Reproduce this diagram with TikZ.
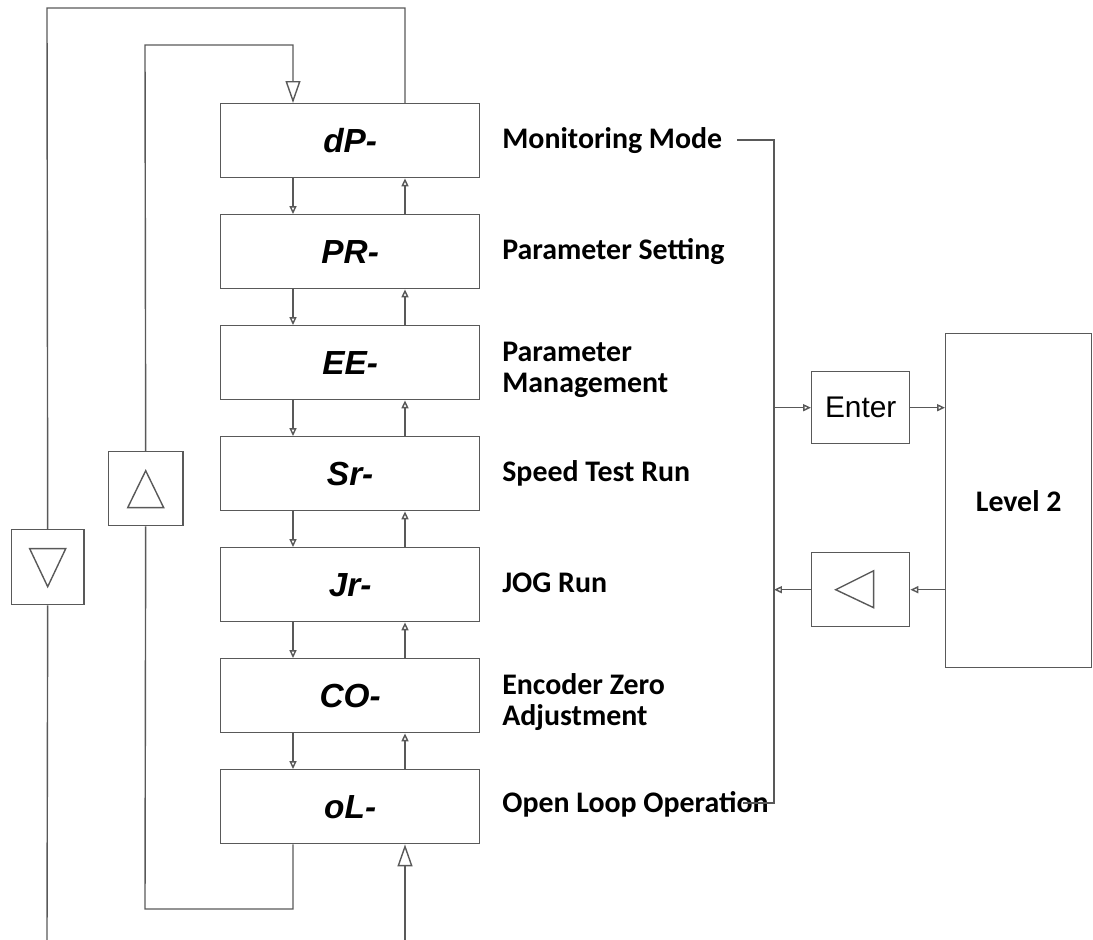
\documentclass[tikz,border=0pt]{standalone}
\usepackage{fontspec}
\setmainfont{Carlito}
\newfontfamily\segfont{Liberation Sans}
\newfontfamily\keyfont{Liberation Sans}
\usetikzlibrary{arrows.meta,calc}
\begin{document}
\begin{tikzpicture}[x=0.02cm,y=-0.02cm,
  ln/.style={draw=black!65, line width=0.8pt},
  modebox/.style={ln, minimum width=5.18cm, minimum height=1.48cm, inner sep=0pt, anchor=north west,
    font=\segfont\bfseries\itshape\fontsize{19}{19}\selectfont},
  keybox/.style={ln, inner sep=0pt, anchor=north west},
  lbl/.style={anchor=base west, inner sep=0pt, font=\bfseries\fontsize{17}{17.6}\selectfont, align=left},
  sarr/.style={-{Triangle[open,length=4.5pt,width=4pt]}},
  barr/.style={-{Triangle[open,length=12.5pt,width=8.5pt]}},
  tri/.style={draw=black!65, line width=0.8pt, line join=miter},
]
\useasboundingbox (0,0) rectangle (1093,940);

\coordinate (xl) at (293,0);
\coordinate (xr) at (405,0);

% mode boxes
\node[modebox] (m1) at (220,103) {dP-};
\node[modebox] (m2) at (220,214) {PR-};
\node[modebox] (m3) at (220,325) {EE-};
\node[modebox] (m4) at (220,436) {Sr-};
\node[modebox] (m5) at (220,547) {Jr-};
\node[modebox] (m6) at (220,658) {CO-};
\node[modebox] (m7) at (220,769) {oL-};

% arrows between boxes
\foreach \a/\b in {m1/m2,m2/m3,m3/m4,m4/m5,m5/m6,m6/m7}{
  \draw[ln,sarr] (\a.south -| xl) -- (\b.north -| xl);
  \draw[ln,sarr] (\b.north -| xr) -- (\a.south -| xr);
}

% labels
\node[lbl] (l1) at (502,148) {Monitoring Mode};
\node[lbl] (l2) at (502,259) {Parameter Setting};
\node[lbl] (l3) at (502,392) {Parameter\\Management};
\node[lbl] (l4) at (502,481) {Speed Test Run};
\node[lbl] (l5) at (502,592) {JOG Run};
\node[lbl] (l6) at (502,725) {Encoder Zero\\Adjustment};
\node[lbl] (l7) at (502,812) {Open Loop Operation};

% key boxes
\node[keybox, minimum width=1.5cm, minimum height=1.48cm] (up) at (107.5,451) {};
\node[keybox, minimum width=1.46cm, minimum height=1.5cm] (dn) at (10.5,529) {};
\draw[tri] ([shift={(0,-18)}]up.center) -- ([shift={(-18,19)}]up.center) -- ([shift={(18,19)}]up.center) -- cycle;
\draw[tri] ([shift={(-18,-18.5)}]dn.center) -- ([shift={(18,-18.5)}]dn.center) -- ([shift={(0,19.5)}]dn.center) -- cycle;

\node[keybox, minimum width=1.96cm, minimum height=1.44cm, font=\keyfont\fontsize{17}{17}\selectfont] (enter) at (811,371) {Enter};
\node[keybox, minimum width=1.96cm, minimum height=1.48cm] (back) at (811,552) {};
\draw[tri] ([shift={(-25,0)}]back.center) -- ([shift={(13,-19)}]back.center) -- ([shift={(13,18)}]back.center) -- cycle;

\node[keybox, minimum width=2.92cm, minimum height=6.68cm, font=\bfseries\fontsize{17}{17}\selectfont] (lv) at (945,333) {Level 2\hspace{16\pgflinewidth}};

% outer loop
\coordinate (o1) at (405,8);
\coordinate (o2) at (47,8);
\coordinate (o3) at (47,940);
\coordinate (o4) at (405,940);
\draw[ln] (m1.north -| xr) -- (o1) -- (o2) -- (dn.north);
\draw[ln] (dn.south) -- (o3);
\draw[ln,barr] (o4) -- (m7.south -| xr);

% inner loop
\coordinate (i1) at (293,909);
\coordinate (i2) at (145,909);
\coordinate (i3) at (145,45);
\coordinate (i4) at (293,45);
\draw[ln] (m7.south -| xl) -- (i1) -- (i2) -- (up.south);
\draw[ln,barr] (up.north) -- (i3) -- (i4) -- (m1.north -| xl);

% right bus
\coordinate (b1) at (737,140);
\coordinate (b2) at (774,140);
\coordinate (b3) at (774,803);
\coordinate (b4) at (743,803);
\draw[ln] (b1) -- (b2) -- (b3) -- (b4);
\draw[ln,sarr] (b2 |- enter.west) -- (enter.west);
\draw[ln,sarr] (enter.east) -- (enter.east -| lv.west);
\draw[ln,sarr] (back.east -| lv.west) -- (back.east);
\draw[ln,sarr] (back.west) -- (b2 |- back.west);
\end{tikzpicture}
\end{document}
